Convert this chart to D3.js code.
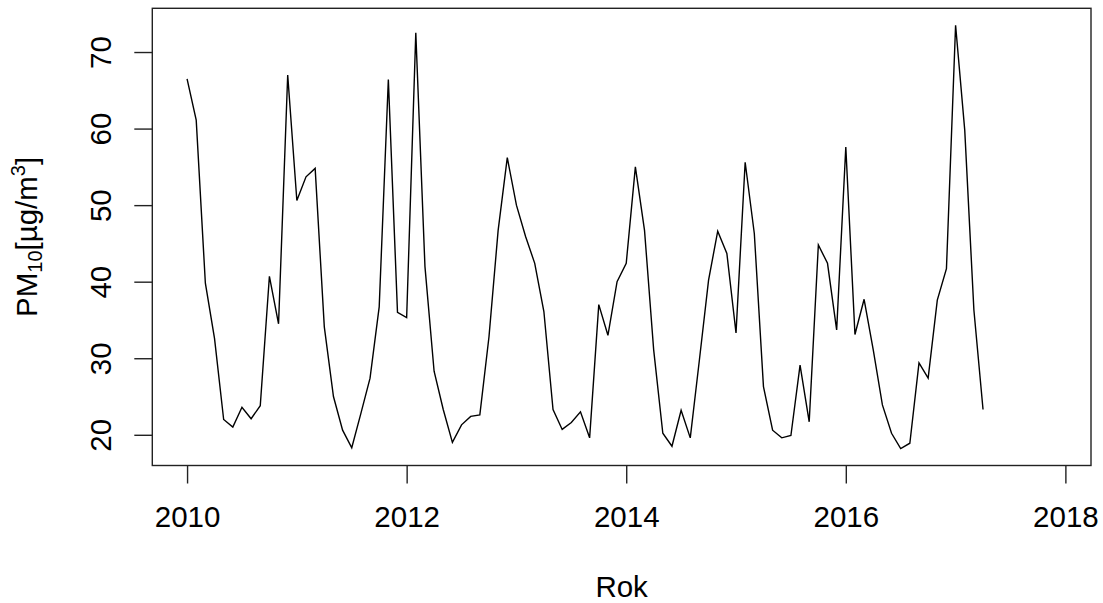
<!DOCTYPE html>
<html>
<head>
<meta charset="utf-8">
<script src="https://cdn.jsdelivr.net/npm/d3@7"></script>
<style>
  body { margin: 0; background: #fff; }
  svg text { font-family: "Liberation Sans", Arial, sans-serif; fill: #000; }
</style>
</head>
<body>
<div id="chart"></div>
<script>
// Monthly PM10 means, Jan 2010 .. Apr 2017 (series runs to Dec 2017, rest missing)
const startYear = 2010;
const endYear = 2017 + 11 / 12;
const pm10 = [
  66.5, 61.1, 39.8, 32.6, 22.0, 21.0, 23.6, 22.1, 23.8, 40.7, 34.5, 67.0,
  50.6, 53.7, 54.8, 34.1, 25.0, 20.6, 18.3, 22.8, 27.4, 36.7, 66.4, 36.0,
  35.3, 72.5, 42.0, 28.3, 23.3, 19.0, 21.3, 22.4, 22.6, 32.8, 46.7, 56.2,
  50.0, 45.9, 42.4, 36.1, 23.3, 20.7, 21.6, 23.0, 19.6, 37.0, 33.0, 40.0,
  42.4, 55.0, 46.7, 31.1, 20.2, 18.5, 23.2, 19.6, 29.8, 40.2, 46.6, 43.7,
  33.3, 55.6, 46.3, 26.3, 20.6, 19.6, 19.9, 29.1, 21.7, 44.8, 42.4, 33.7,
  57.6, 33.1, 37.7, 31.1, 23.9, 20.2, 18.2, 18.9, 29.4, 27.4, 37.6, 41.7,
  73.5, 59.8, 36.3, 23.3
];
const xTicks = [2010, 2012, 2014, 2016, 2018];
const yTicks = [20, 30, 40, 50, 60, 70];

const width = 1103, height = 603;
const margin = { top: 8.3, right: 12, bottom: 137.5, left: 152.3 };
const fontSize = 29.5;

const svg = d3.select("#chart")
  .append("svg")
    .attr("width", width)
    .attr("height", height);

// R style axis limits: data range padded by 4%
const xPad = 0.04 * (endYear - startYear);
const x = d3.scaleLinear()
  .domain([startYear - xPad, endYear + xPad])
  .range([margin.left, width - margin.right]);

const yMin = d3.min(pm10), yMax = d3.max(pm10);
const yPad = 0.04 * (yMax - yMin);
const y = d3.scaleLinear()
  .domain([yMin - yPad, yMax + yPad])
  .range([height - margin.bottom, margin.top]);

const data = pm10.map((v, i) => ({ t: startYear + i / 12, v: v }));

// Line
svg.append("path")
  .datum(data)
  .attr("fill", "none")
  .attr("stroke", "#000")
  .attr("stroke-width", 1.4)
  .attr("d", d3.line().x(d => x(d.t)).y(d => y(d.v)));

// Box
svg.append("rect")
  .attr("x", margin.left)
  .attr("y", margin.top)
  .attr("width", width - margin.right - margin.left)
  .attr("height", height - margin.bottom - margin.top)
  .attr("fill", "none")
  .attr("stroke", "#222")
  .attr("stroke-width", 1.4);

// X axis
const xAxis = svg.append("g")
  .attr("transform", "translate(0," + (height - margin.bottom) + ")")
  .call(d3.axisBottom(x).tickValues(xTicks).tickFormat(d3.format("d"))
    .tickSize(18).tickPadding(23));
xAxis.select(".domain").attr("stroke", "none");
xAxis.selectAll(".tick line").attr("stroke", "#222").attr("stroke-width", 1.4);
xAxis.selectAll(".tick text")
  .attr("font-size", fontSize)
  .attr("font-family", "Liberation Sans, Arial, sans-serif")
  .attr("fill", "#000");

// Y axis
const yAxis = svg.append("g")
  .attr("transform", "translate(" + margin.left + ",0)")
  .call(d3.axisLeft(y).tickValues(yTicks).tickSize(18));
yAxis.select(".domain").attr("stroke", "none");
yAxis.selectAll(".tick line").attr("stroke", "#222").attr("stroke-width", 1.4);
yAxis.selectAll(".tick text")
  .attr("font-size", fontSize)
  .attr("font-family", "Liberation Sans, Arial, sans-serif")
  .attr("fill", "#000")
  .attr("text-anchor", "middle")
  .attr("x", null)
  .attr("dy", null)
  .attr("transform", "translate(" + (111 - margin.left) + ",0) rotate(-90)");

// Axis titles
const plotMidX = (margin.left + width - margin.right) / 2;
const plotMidY = (margin.top + height - margin.bottom) / 2;

svg.append("text")
  .attr("x", plotMidX)
  .attr("y", 597)
  .attr("text-anchor", "middle")
  .attr("font-size", fontSize)
  .text("Rok");

const yLab = svg.append("text")
  .attr("transform", "translate(37," + plotMidY + ") rotate(-90)")
  .attr("text-anchor", "middle")
  .attr("font-size", fontSize);
yLab.append("tspan").text("PM");
yLab.append("tspan").attr("font-size", 20).attr("dy", 5).text("10");
yLab.append("tspan").attr("dy", -5).text("[µg/m");
yLab.append("tspan").attr("font-size", 20).attr("dy", -12).text("3");
yLab.append("tspan").attr("dy", 12).text("]");
</script>
</body>
</html>
